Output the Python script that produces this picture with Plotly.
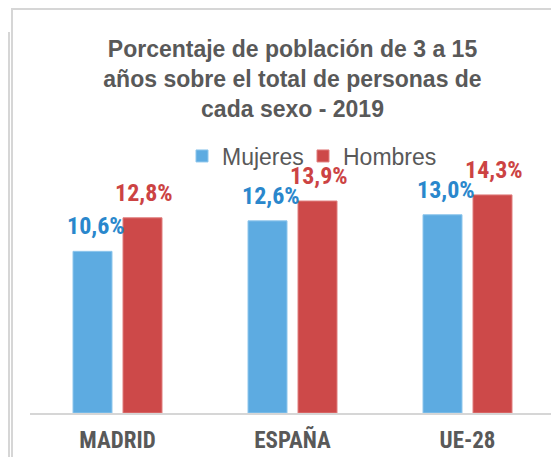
import plotly.graph_objects as go

categories = ["MADRID", "ESPAÑA", "UE-28"]
mujeres = [10.6, 12.6, 13.0]
hombres = [12.8, 13.9, 14.3]
mujeres_labels = ["10,6%", "12,6%", "13,0%"]
hombres_labels = ["12,8%", "13,9%", "14,3%"]

# page has an 8px body margin; figure sized/positioned to compensate
OFF = 8
W, H = 559 - OFF, 457 - OFF
L, R, T, B = 30 - OFF, 4, 169 - OFF, 44

BLUE = "#5DABE1"
RED = "#CD4949"
BLUE_TXT = "#2A87CC"
RED_TXT = "#CC4343"
GREY = "#595959"
FRAME = "#D6D6D6"
COND = "Roboto Condensed, Noto Sans Condensed, Liberation Sans Narrow, Liberation Sans"

pw, ph = W - L - R, H - T - B
def px(x):  # page x -> paper x
    return (x - OFF - L) / pw
def py(y):  # page y -> paper y
    return (H - B - (y - OFF)) / ph

fig = go.Figure()
fig.add_trace(go.Bar(x=categories, y=mujeres, name="Mujeres", legend="legend",
                     marker=dict(color=BLUE, line=dict(color="#8EC6EC", width=1))))
fig.add_trace(go.Bar(x=categories, y=hombres, name="Hombres", legend="legend2",
                     marker=dict(color=RED, line=dict(color="#E07E7E", width=1))))

anns = []
for c, v, t in zip(categories, mujeres, mujeres_labels):
    anns.append(dict(x=c, y=v, xref="x", yref="y", text="<b>%s</b>" % t, showarrow=False,
                     xshift=-22, yshift=25, yanchor="middle",
                     font=dict(family=COND, size=24, color=BLUE_TXT)))
for c, v, t in zip(categories, hombres, hombres_labels):
    anns.append(dict(x=c, y=v, xref="x", yref="y", text="<b>%s</b>" % t, showarrow=False,
                     xshift=26, yshift=25, yanchor="middle",
                     font=dict(family=COND, size=24, color=RED_TXT)))

shapes = [
    dict(type="line", xref="paper", yref="paper", x0=px(12), y0=py(470), x1=px(12), y1=py(8),
         line=dict(color=FRAME, width=2)),
    dict(type="line", xref="paper", yref="paper", x0=px(11), y0=py(9), x1=px(570), y1=py(9),
         line=dict(color=FRAME, width=2)),
    dict(type="line", xref="paper", yref="paper", x0=px(9), y0=py(32), x1=px(9), y1=py(470),
         line=dict(color=FRAME, width=2)),
]

legend_common = dict(orientation="h", yanchor="middle", y=py(156), xanchor="left",
                     font=dict(family="Liberation Sans, Arial", size=23, color=GREY),
                     bgcolor="rgba(0,0,0,0)", itemclick=False)

fig.update_layout(
    width=W, height=H,
    margin=dict(l=L, r=R, t=T, b=B),
    paper_bgcolor="white", plot_bgcolor="white",
    barmode="group", bargap=0.4286, bargroupgap=0.22,
    title=dict(text="<b>Porcentaje de población de 3 a 15<br>años sobre el total de personas de<br>cada sexo - 2019</b>",
               x=0.5, xref="paper", xanchor="center",
               y=1 - 49 / H, yref="container", yanchor="top",
               font=dict(family="Liberation Sans, Arial", size=23, color=GREY)),
    legend=dict(legend_common, x=px(182)),
    legend2=dict(legend_common, x=px(303)),
    xaxis=dict(showline=True, linecolor=FRAME, linewidth=2, ticks="",
               showgrid=False, zeroline=False, ticklabelstandoff=5,
               tickfont=dict(family=COND, size=23, color=GREY),
               tickprefix="<b>", ticksuffix="</b>"),
    yaxis=dict(visible=False, range=[0, 16], showgrid=False, zeroline=False),
    annotations=anns,
    shapes=shapes,
    showlegend=True,
)

fig.write_html("out.html")
